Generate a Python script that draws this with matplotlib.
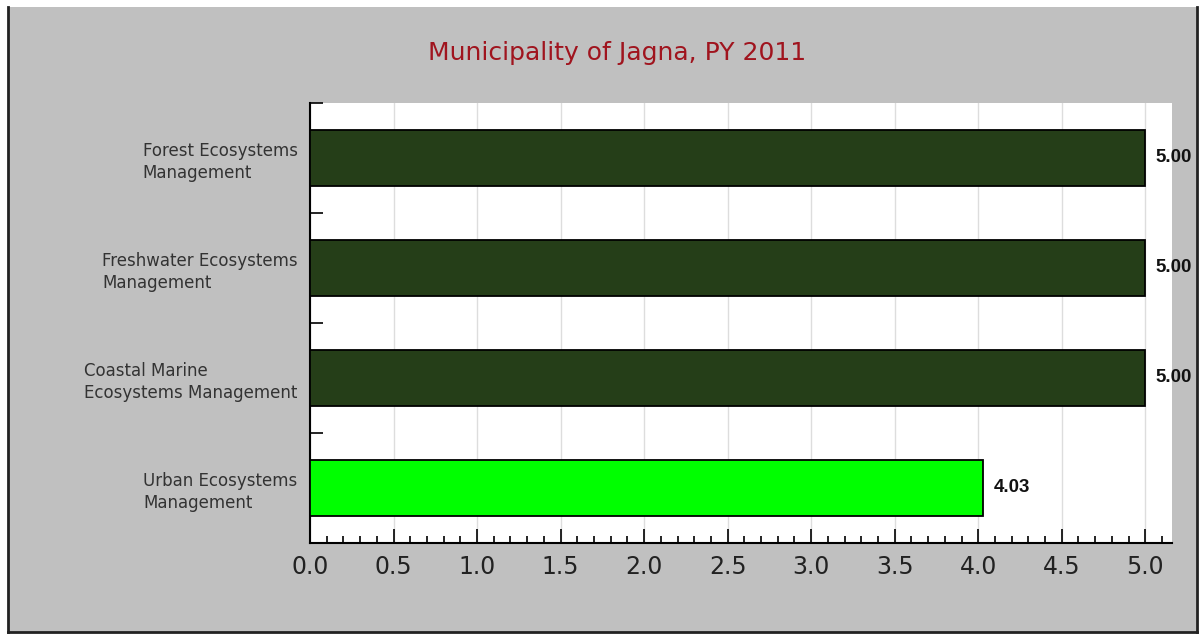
import matplotlib.pyplot as plt
from matplotlib.patches import Rectangle
from matplotlib.lines import Line2D
from matplotlib.ticker import MultipleLocator, FixedLocator

# data
categories = ['Forest Ecosystems\nManagement',
              'Freshwater Ecosystems\nManagement',
              'Coastal Marine\nEcosystems Management',
              'Urban Ecosystems\nManagement']
values = [5.00, 5.00, 5.00, 4.03]
bar_colors = ['#253e18', '#253e18', '#253e18', '#00ff00']
title = 'Municipality of Jagna, PY 2011'

W, H = 1200, 634
fig = plt.figure(figsize=(W / 100, H / 100), dpi=100)
fig.patch.set_facecolor('white')
plt.rcParams['font.family'] = ['DejaVu Sans']

def fx(px):
    return px / W

def fy(py):
    return 1 - py / H

# grey frame with black border (left, bottom, right)
bg = Rectangle((fx(8), fy(632)), fx(1197) - fx(8), fy(7) - fy(632),
               transform=fig.transFigure, facecolor='#c0c0c0', edgecolor='none', zorder=-10)
fig.patches.append(bg)
for xs, ys in [([8, 8], [7, 632]), ([8, 1197], [632, 632]), ([1197, 1197], [7, 632])]:
    fig.lines.append(Line2D([fx(x) for x in xs], [fy(y) for y in ys], transform=fig.transFigure,
                            color='#222222', lw=2, zorder=10))

ax = fig.add_axes([fx(310), fy(543), fx(1172) - fx(310), fy(103) - fy(543)])
ax.set_facecolor('white')

n = len(categories)
ypos = list(range(n - 1, -1, -1))
ax.barh(ypos, values, height=0.51, color=bar_colors, edgecolor='black', linewidth=1.3, zorder=3)

ax.set_xlim(0, 5.16)
ax.set_ylim(-0.5, n - 0.5)

ax.xaxis.set_major_locator(MultipleLocator(0.5))
ax.xaxis.set_minor_locator(MultipleLocator(0.1))
ax.xaxis.set_major_formatter(plt.FuncFormatter(lambda v, p: '%.1f' % v))
ax.tick_params(axis='x', which='major', direction='in', length=10, width=1.2, color='black',
               labelsize=17, labelcolor='#222222', pad=9)
ax.tick_params(axis='x', which='minor', direction='in', length=5, width=1.2, color='black')
ax.grid(axis='x', which='major', color='#dddddd', lw=1, zorder=0)

ax.set_yticks(ypos)
ax.set_yticklabels(categories, fontsize=12, color='#333333', ha='right', multialignment='left',
                   linespacing=1.3)
ax.yaxis.set_minor_locator(FixedLocator([i - 0.5 for i in range(n + 1)]))
ax.tick_params(axis='y', which='major', length=0, pad=9)
ax.tick_params(axis='y', which='minor', direction='in', length=9, width=1.2, color='black')

for s in ['top', 'right']:
    ax.spines[s].set_visible(False)
for s in ['left', 'bottom']:
    ax.spines[s].set_color('black')
    ax.spines[s].set_linewidth(1.5)

# value labels, clipped at the frame
clip = Rectangle((fx(8), fy(632)), fx(1196) - fx(8), fy(7) - fy(632), transform=fig.transFigure,
                 facecolor='none', edgecolor='none')
fig.patches.append(clip)
for y, v in zip(ypos, values):
    t = ax.text(v + 0.06, y, '%.2f' % v, va='center', ha='left', fontsize=13.5,
                fontweight='bold', family='Liberation Sans', color='#111111', zorder=5)
    t.set_clip_path(clip)
    t.set_clip_on(True)

fig.text(fx(617), fy(53), title, ha='center', va='center', fontsize=18, color='#a0141e')

fig.savefig('out.png', dpi=100)
